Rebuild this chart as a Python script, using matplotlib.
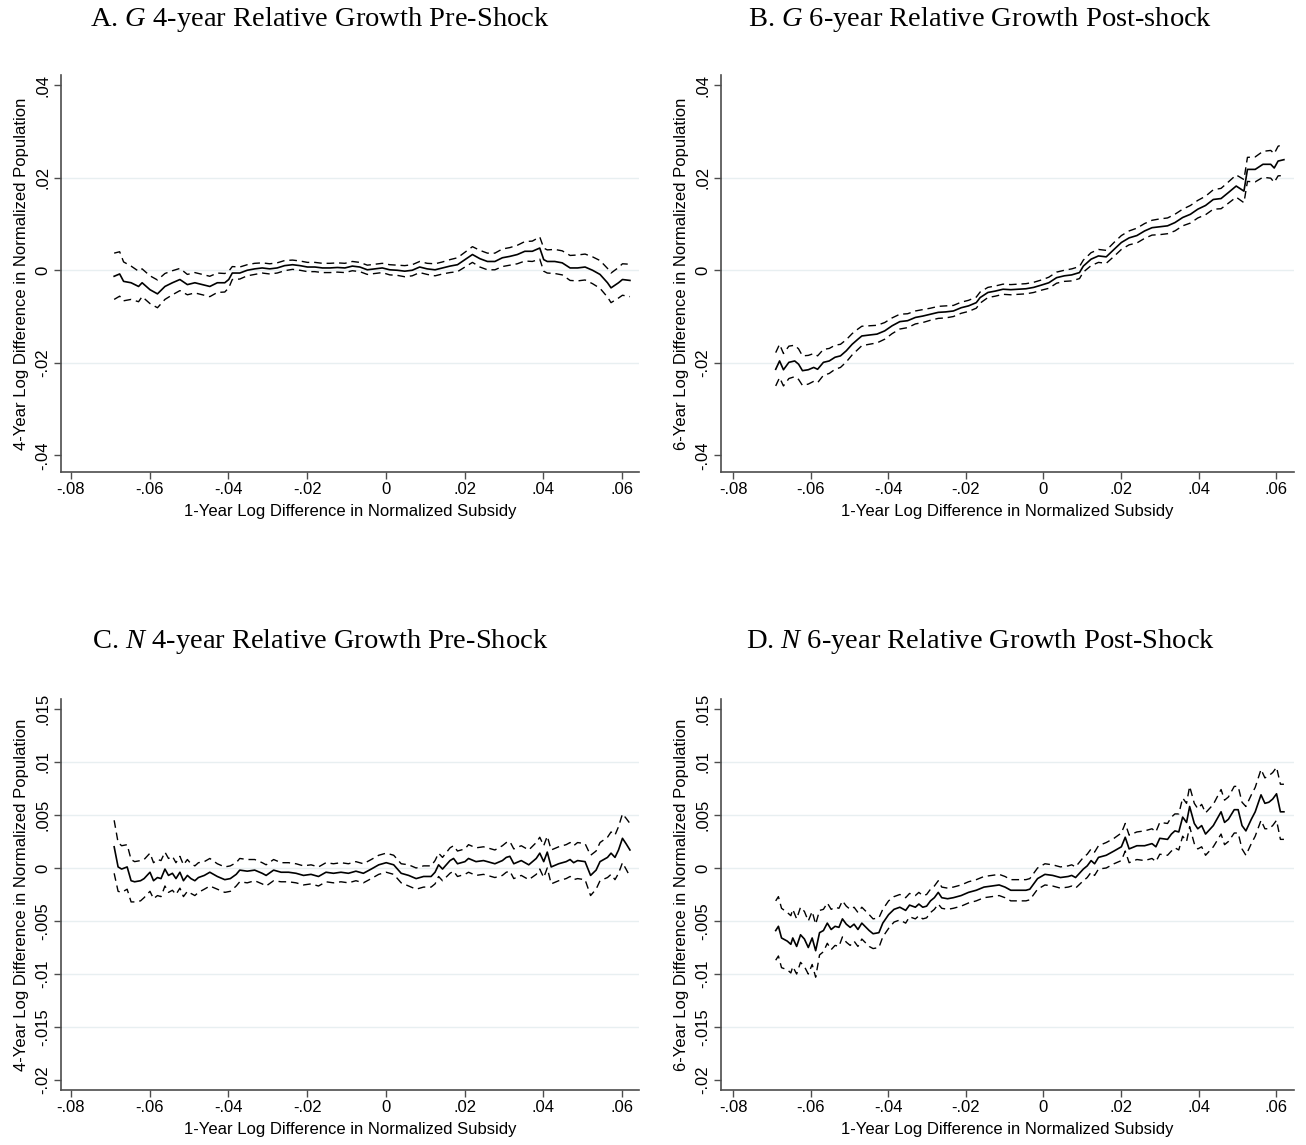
import matplotlib
matplotlib.use("Agg")
import matplotlib.pyplot as plt
import numpy as np

plt.rcParams['font.family'] = ['Liberation Sans', 'DejaVu Sans']
plt.rcParams['mathtext.fontset'] = 'custom'
plt.rcParams['mathtext.it'] = 'Liberation Serif:italic'
plt.rcParams['mathtext.rm'] = 'Liberation Serif'

# ---------------- Panel A ----------------
a_x = [-0.0690, -0.0676, -0.0666, -0.0647, -0.0628, -0.0619, -0.0599, -0.0580, -0.0561, -0.0542,
       -0.0523, -0.0504, -0.0485, -0.0466, -0.0447, -0.0428, -0.0409, -0.0399, -0.0390, -0.0371,
       -0.0352, -0.0333, -0.0314, -0.0295, -0.0276, -0.0257, -0.0237, -0.0218, -0.0199, -0.0180,
       -0.0161, -0.0142, -0.0123, -0.0104, -0.0085, -0.0066, -0.0047, -0.0028, -0.0009, 0.0010,
       0.0029, 0.0048, 0.0067, 0.0086, 0.0105, 0.0125, 0.0144, 0.0163, 0.0182, 0.0201,
       0.0220, 0.0239, 0.0258, 0.0277, 0.0296, 0.0315, 0.0334, 0.0353, 0.0372, 0.0391,
       0.0401, 0.0410, 0.0429, 0.0448, 0.0468, 0.0487, 0.0506, 0.0525, 0.0544, 0.0563,
       0.0572, 0.0591, 0.0601, 0.0620]
a_y = [-0.0013, -0.0008, -0.0024, -0.0027, -0.0035, -0.0027, -0.0042, -0.0051, -0.0035, -0.0027,
       -0.0020, -0.0031, -0.0027, -0.0031, -0.0035, -0.0027, -0.0027, -0.0020, -0.0006, -0.0006,
       0.0000, 0.0003, 0.0005, 0.0003, 0.0005, 0.0010, 0.0012, 0.0010, 0.0007, 0.0007,
       0.0005, 0.0005, 0.0006, 0.0005, 0.0009, 0.0007, 0.0001, 0.0003, 0.0005, 0.0001,
       0.0000, -0.0002, 0.0000, 0.0007, 0.0003, 0.0001, 0.0005, 0.0009, 0.0012, 0.0023,
       0.0034, 0.0025, 0.0019, 0.0019, 0.0027, 0.0030, 0.0034, 0.0041, 0.0041, 0.0048,
       0.0023, 0.0019, 0.0019, 0.0016, 0.0005, 0.0005, 0.0007, 0.0000, -0.0009, -0.0027,
       -0.0038, -0.0027, -0.0020, -0.0022]
a_ci = [0.0050, 0.0048, 0.0042, 0.0036, 0.0033, 0.0030, 0.0030, 0.0030, 0.0028, 0.0026,
        0.0024, 0.0022, 0.0022, 0.0022, 0.0022, 0.0021, 0.0020, 0.0018, 0.0014, 0.0013,
        0.0012, 0.0012, 0.0011, 0.0011, 0.0011, 0.0011, 0.0010, 0.0010, 0.0010, 0.0010,
        0.0010, 0.0010, 0.0010, 0.0010, 0.0010, 0.0010, 0.0010, 0.0010, 0.0010, 0.0011,
        0.0011, 0.0012, 0.0012, 0.0012, 0.0012, 0.0013, 0.0013, 0.0014, 0.0015, 0.0016,
        0.0017, 0.0018, 0.0018, 0.0018, 0.0019, 0.0019, 0.0020, 0.0021, 0.0022, 0.0024,
        0.0025, 0.0025, 0.0026, 0.0026, 0.0027, 0.0028, 0.0028, 0.0029, 0.0030, 0.0031,
        0.0032, 0.0033, 0.0034, 0.0035]

# ---------------- Panel B ----------------
b_x = [-0.0690, -0.0680, -0.0670, -0.0656, -0.0641, -0.0631, -0.0621, -0.0606, -0.0592, -0.0582,
       -0.0567, -0.0552, -0.0537, -0.0523, -0.0508, -0.0493, -0.0478, -0.0468, -0.0449, -0.0429,
       -0.0409, -0.0390, -0.0370, -0.0350, -0.0330, -0.0311, -0.0291, -0.0271, -0.0252, -0.0232,
       -0.0212, -0.0193, -0.0173, -0.0163, -0.0143, -0.0124, -0.0104, -0.0084, -0.0065, -0.0045,
       -0.0025, -0.0005, 0.0014, 0.0034, 0.0054, 0.0073, 0.0093, 0.0103, 0.0123, 0.0142,
       0.0162, 0.0182, 0.0201, 0.0221, 0.0241, 0.0261, 0.0280, 0.0300, 0.0320, 0.0339,
       0.0359, 0.0379, 0.0398, 0.0418, 0.0438, 0.0458, 0.0477, 0.0497, 0.0517, 0.0526,
       0.0546, 0.0566, 0.0586, 0.0595, 0.0605, 0.0620]
b_y = [-0.0214, -0.0196, -0.0215, -0.0199, -0.0196, -0.0203, -0.0217, -0.0215, -0.0210, -0.0214,
       -0.0199, -0.0196, -0.0188, -0.0185, -0.0174, -0.0160, -0.0149, -0.0142, -0.0140, -0.0138,
       -0.0131, -0.0120, -0.0111, -0.0109, -0.0102, -0.0099, -0.0095, -0.0091, -0.0090, -0.0088,
       -0.0081, -0.0077, -0.0070, -0.0059, -0.0048, -0.0045, -0.0041, -0.0042, -0.0041, -0.0040,
       -0.0037, -0.0032, -0.0027, -0.0016, -0.0012, -0.0010, -0.0005, 0.0009, 0.0024, 0.0031,
       0.0029, 0.0045, 0.0060, 0.0070, 0.0075, 0.0085, 0.0092, 0.0094, 0.0096, 0.0103,
       0.0114, 0.0121, 0.0132, 0.0140, 0.0153, 0.0155, 0.0168, 0.0182, 0.0171, 0.0218,
       0.0218, 0.0229, 0.0229, 0.0221, 0.0236, 0.0239]
b_ci = [0.0036, 0.0036, 0.0035, 0.0035, 0.0034, 0.0033, 0.0032, 0.0031, 0.0030, 0.0029,
        0.0028, 0.0027, 0.0026, 0.0025, 0.0024, 0.0023, 0.0022, 0.0021, 0.0020, 0.0019,
        0.0018, 0.0017, 0.0016, 0.0015, 0.0014, 0.0014, 0.0013, 0.0013, 0.0013, 0.0012,
        0.0012, 0.0012, 0.0012, 0.0012, 0.0011, 0.0011, 0.0011, 0.0011, 0.0011, 0.0011,
        0.0011, 0.0011, 0.0012, 0.0012, 0.0012, 0.0013, 0.0013, 0.0013, 0.0014, 0.0014,
        0.0014, 0.0015, 0.0015, 0.0015, 0.0016, 0.0016, 0.0016, 0.0017, 0.0017, 0.0018,
        0.0018, 0.0019, 0.0019, 0.0020, 0.0021, 0.0022, 0.0023, 0.0024, 0.0025, 0.0026,
        0.0027, 0.0028, 0.0030, 0.0031, 0.0032, 0.0034]

# ---------------- Panel C ----------------
c_x = [-0.0690, -0.0680, -0.0671, -0.0657, -0.0647, -0.0638, -0.0623, -0.0614, -0.0599, -0.0590,
       -0.0580, -0.0571, -0.0561, -0.0552, -0.0542, -0.0533, -0.0523, -0.0514, -0.0504, -0.0495,
       -0.0485, -0.0476, -0.0461, -0.0447, -0.0428, -0.0409, -0.0395, -0.0380, -0.0371, -0.0352,
       -0.0333, -0.0314, -0.0304, -0.0285, -0.0266, -0.0247, -0.0228, -0.0209, -0.0190, -0.0171,
       -0.0152, -0.0133, -0.0114, -0.0095, -0.0076, -0.0057, -0.0037, -0.0018, 0.0001, 0.0020,
       0.0039, 0.0058, 0.0077, 0.0096, 0.0115, 0.0125, 0.0134, 0.0144, 0.0163, 0.0172,
       0.0182, 0.0201, 0.0210, 0.0229, 0.0248, 0.0258, 0.0277, 0.0296, 0.0306, 0.0315,
       0.0325, 0.0344, 0.0363, 0.0382, 0.0391, 0.0401, 0.0410, 0.0420, 0.0439, 0.0458,
       0.0468, 0.0477, 0.0487, 0.0506, 0.0520, 0.0534, 0.0544, 0.0563, 0.0572, 0.0582,
       0.0591, 0.0601, 0.0610, 0.0620]
c_y = [0.0020, 0.0001, -0.0001, 0.0001, -0.0012, -0.0013, -0.0012, -0.0010, -0.0004, -0.0012,
       -0.0009, -0.0010, -0.0001, -0.0007, -0.0005, -0.0010, -0.0004, -0.0012, -0.0007, -0.0010,
       -0.0012, -0.0009, -0.0007, -0.0004, -0.0008, -0.0011, -0.0010, -0.0006, -0.0002, -0.0003,
       -0.0002, -0.0005, -0.0007, -0.0002, -0.0004, -0.0004, -0.0005, -0.0007, -0.0006, -0.0008,
       -0.0004, -0.0005, -0.0004, -0.0005, -0.0003, -0.0005, -0.0001, 0.0003, 0.0005, 0.0003,
       -0.0005, -0.0007, -0.0010, -0.0008, -0.0008, -0.0004, 0.0003, -0.0001, 0.0007, 0.0009,
       0.0004, 0.0006, 0.0009, 0.0006, 0.0007, 0.0006, 0.0004, 0.0007, 0.0010, 0.0011,
       0.0004, 0.0007, 0.0003, 0.0009, 0.0014, 0.0006, 0.0015, 0.0001, 0.0004, 0.0006,
       0.0008, 0.0005, 0.0007, 0.0006, -0.0007, -0.0002, 0.0006, 0.0010, 0.0014, 0.0010,
       0.0017, 0.0028, 0.0023, 0.0017]
c_ci = [0.0025, 0.0023, 0.0022, 0.0021, 0.0020, 0.0019, 0.0019, 0.0018, 0.0018, 0.0017,
        0.0017, 0.0017, 0.0016, 0.0016, 0.0016, 0.0015, 0.0015, 0.0015, 0.0015, 0.0014,
        0.0014, 0.0014, 0.0013, 0.0013, 0.0012, 0.0012, 0.0012, 0.0011, 0.0011, 0.0011,
        0.0010, 0.0010, 0.0010, 0.0010, 0.0009, 0.0009, 0.0009, 0.0009, 0.0009, 0.0009,
        0.0009, 0.0009, 0.0009, 0.0009, 0.0009, 0.0009, 0.0009, 0.0009, 0.0009, 0.0009,
        0.0009, 0.0010, 0.0010, 0.0010, 0.0010, 0.0011, 0.0011, 0.0011, 0.0012, 0.0012,
        0.0012, 0.0012, 0.0013, 0.0013, 0.0013, 0.0013, 0.0013, 0.0014, 0.0014, 0.0014,
        0.0014, 0.0014, 0.0014, 0.0015, 0.0015, 0.0015, 0.0015, 0.0016, 0.0016, 0.0016,
        0.0016, 0.0016, 0.0017, 0.0017, 0.0019, 0.0018, 0.0018, 0.0019, 0.0020, 0.0021,
        0.0022, 0.0023, 0.0024, 0.0025]

# ---------------- Panel D ----------------
d_x = [-0.0690, -0.0683, -0.0675, -0.0660, -0.0651, -0.0646, -0.0636, -0.0626, -0.0616, -0.0606,
       -0.0596, -0.0587, -0.0577, -0.0567, -0.0557, -0.0547, -0.0537, -0.0527, -0.0518, -0.0508,
       -0.0498, -0.0488, -0.0478, -0.0468, -0.0449, -0.0439, -0.0424, -0.0414, -0.0399, -0.0385,
       -0.0370, -0.0355, -0.0345, -0.0330, -0.0321, -0.0311, -0.0301, -0.0291, -0.0281, -0.0271,
       -0.0262, -0.0247, -0.0232, -0.0212, -0.0193, -0.0173, -0.0153, -0.0133, -0.0114, -0.0099,
       -0.0084, -0.0065, -0.0045, -0.0035, -0.0015, 0.0004, 0.0024, 0.0044, 0.0064, 0.0073,
       0.0083, 0.0103, 0.0113, 0.0123, 0.0132, 0.0142, 0.0162, 0.0182, 0.0201, 0.0211,
       0.0221, 0.0241, 0.0261, 0.0280, 0.0290, 0.0300, 0.0320, 0.0330, 0.0339, 0.0349,
       0.0359, 0.0369, 0.0377, 0.0389, 0.0398, 0.0408, 0.0418, 0.0438, 0.0458, 0.0467,
       0.0477, 0.0492, 0.0502, 0.0512, 0.0522, 0.0536, 0.0546, 0.0561, 0.0571, 0.0581,
       0.0591, 0.0601, 0.0611, 0.0620]
d_y = [-0.0059, -0.0055, -0.0066, -0.0069, -0.0072, -0.0066, -0.0074, -0.0063, -0.0067, -0.0075,
       -0.0066, -0.0078, -0.0061, -0.0059, -0.0052, -0.0058, -0.0055, -0.0056, -0.0048, -0.0053,
       -0.0056, -0.0053, -0.0058, -0.0052, -0.0059, -0.0062, -0.0061, -0.0052, -0.0044, -0.0039,
       -0.0037, -0.0040, -0.0035, -0.0037, -0.0034, -0.0037, -0.0036, -0.0031, -0.0028, -0.0023,
       -0.0028, -0.0029, -0.0028, -0.0026, -0.0023, -0.0021, -0.0018, -0.0017, -0.0016, -0.0018,
       -0.0021, -0.0021, -0.0021, -0.0020, -0.0010, -0.0006, -0.0007, -0.0009, -0.0008, -0.0007,
       -0.0009, -0.0001, 0.0002, 0.0007, 0.0004, 0.0010, 0.0012, 0.0016, 0.0020, 0.0029,
       0.0018, 0.0021, 0.0021, 0.0023, 0.0020, 0.0028, 0.0027, 0.0032, 0.0035, 0.0034,
       0.0048, 0.0043, 0.0058, 0.0042, 0.0037, 0.0040, 0.0032, 0.0040, 0.0053, 0.0043,
       0.0046, 0.0055, 0.0055, 0.0040, 0.0035, 0.0046, 0.0053, 0.0069, 0.0061, 0.0062,
       0.0065, 0.0070, 0.0053, 0.0053]
d_ci = [0.0028, 0.0028, 0.0028, 0.0027, 0.0027, 0.0027, 0.0026, 0.0026, 0.0026, 0.0025,
        0.0025, 0.0025, 0.0021, 0.0020, 0.0019, 0.0019, 0.0018, 0.0018, 0.0017, 0.0017,
        0.0017, 0.0016, 0.0016, 0.0015, 0.0015, 0.0014, 0.0014, 0.0013, 0.0013, 0.0012,
        0.0012, 0.0012, 0.0011, 0.0011, 0.0011, 0.0011, 0.0011, 0.0011, 0.0011, 0.0011,
        0.0010, 0.0010, 0.0010, 0.0010, 0.0010, 0.0010, 0.0010, 0.0010, 0.0010, 0.0010,
        0.0010, 0.0010, 0.0010, 0.0010, 0.0010, 0.0010, 0.0010, 0.0010, 0.0010, 0.0010,
        0.0010, 0.0011, 0.0011, 0.0011, 0.0011, 0.0011, 0.0012, 0.0012, 0.0013, 0.0013,
        0.0013, 0.0013, 0.0014, 0.0014, 0.0014, 0.0015, 0.0015, 0.0016, 0.0016, 0.0017,
        0.0018, 0.0018, 0.0019, 0.0019, 0.0019, 0.0020, 0.0020, 0.0020, 0.0021, 0.0021,
        0.0021, 0.0022, 0.0022, 0.0022, 0.0023, 0.0023, 0.0023, 0.0024, 0.0024, 0.0025,
        0.0025, 0.0025, 0.0026, 0.0026]

titles = ["A. $\\mathit{G}$ 4-year Relative Growth Pre-Shock",
          "B. $\\mathit{G}$ 6-year Relative Growth Post-shock",
          "C. $\\mathit{N}$ 4-year Relative Growth Pre-Shock",
          "D. $\\mathit{N}$ 6-year Relative Growth Post-Shock"]
ylabels = ["4-Year Log Difference in Normalized Population",
           "6-Year Log Difference in Normalized Population",
           "4-Year Log Difference in Normalized Population",
           "6-Year Log Difference in Normalized Population"]
xlabel = "1-Year Log Difference in Normalized Subsidy"

x_ticks = [-0.08, -0.06, -0.04, -0.02, 0.0, 0.02, 0.04, 0.06]
x_ticklabels = ["-.08", "-.06", "-.04", "-.02", "0", ".02", ".04", ".06"]
yticks_top = [-0.04, -0.02, 0.0, 0.02, 0.04]
yticklabels_top = ["-.04", "-.02", "0", ".02", ".04"]
yticks_bot = [-0.02, -0.015, -0.01, -0.005, 0.0, 0.005, 0.01, 0.015]
yticklabels_bot = ["-.02", "-.015", "-.01", "-.005", "0", ".005", ".01", ".015"]

W, H = 1306, 1145
fig = plt.figure(figsize=(W / 100, H / 100), dpi=100)

def px_rect(l, t, r, b):
    return [l / W, 1 - b / H, (r - l) / W, (b - t) / H]

panels = [
    dict(rect=px_rect(61, 75, 639, 472), x=a_x, y=a_y, ci=a_ci,
         xlim=(-0.0825, 0.0643), ylim=(-0.0436, 0.0422),
         yt=yticks_top, ytl=yticklabels_top, title_xy=(320, 19)),
    dict(rect=px_rect(721, 75, 1294, 472), x=b_x, y=b_y, ci=b_ci,
         xlim=(-0.0831, 0.0646), ylim=(-0.0436, 0.0422),
         yt=yticks_top, ytl=yticklabels_top, title_xy=(980, 19)),
    dict(rect=px_rect(61, 699, 639, 1090), x=c_x, y=c_y, ci=c_ci,
         xlim=(-0.0825, 0.0643), ylim=(-0.02094, 0.01594),
         yt=yticks_bot, ytl=yticklabels_bot, title_xy=(320, 642)),
    dict(rect=px_rect(721, 699, 1294, 1090), x=d_x, y=d_y, ci=d_ci,
         xlim=(-0.0831, 0.0646), ylim=(-0.02094, 0.01594),
         yt=yticks_bot, ytl=yticklabels_bot, title_xy=(980, 642)),
]

spine_col = '#4d4d4d'
grid_col = '#e8eff1'

for i, p in enumerate(panels):
    ax = fig.add_axes(p['rect'])
    x = np.array(p['x']); y = np.array(p['y']); ci = np.array(p['ci'])
    for t in p['yt'][1:-1]:
        ax.axhline(t, color=grid_col, lw=1.0, zorder=0)
    ax.plot(x, y + ci, color='black', lw=1.0, ls=(0, (5.5, 3.5)), zorder=2)
    ax.plot(x, y - ci, color='black', lw=1.0, ls=(0, (5.5, 3.5)), zorder=2)
    ax.plot(x, y, color='black', lw=1.2, zorder=3)
    ax.set_xlim(*p['xlim']); ax.set_ylim(*p['ylim'])
    ax.set_xticks(x_ticks); ax.set_xticklabels(x_ticklabels)
    ax.set_yticks(p['yt']); ax.set_yticklabels(p['ytl'], rotation=90, va='center')
    for s in ['top', 'right']:
        ax.spines[s].set_visible(False)
    for s in ['left', 'bottom']:
        ax.spines[s].set_color(spine_col)
        ax.spines[s].set_linewidth(1.2)
    ax.tick_params(axis='both', colors=spine_col, labelcolor='black', length=5,
                   width=1.0, labelsize=12, pad=2.5)
    ax.set_xlabel(xlabel, fontsize=12, labelpad=5)
    ax.set_ylabel(ylabels[i], fontsize=12, labelpad=5)
    tx, ty = p['title_xy']
    fig.text(tx / W, 1 - ty / H, titles[i], ha='center', va='center',
             fontsize=20.5, family='Liberation Serif')

fig.savefig('out.png', dpi=100, facecolor='white')
